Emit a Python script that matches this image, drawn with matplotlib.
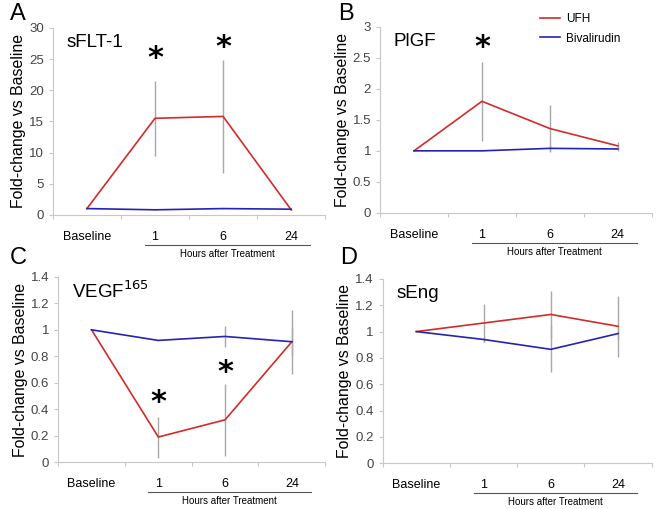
import matplotlib
matplotlib.use("Agg")
import matplotlib.pyplot as plt
from matplotlib.ticker import FuncFormatter
import matplotlib.transforms as mtrans

plt.rcParams['font.family'] = ['Liberation Sans', 'DejaVu Sans']

categories = ["Baseline", "1", "6", "24"]
series_names = ["UFH", "Bivalirudin"]

# panel A: sFLT-1
sflt_ufh = [1.0, 15.5, 15.8, 0.8]
sflt_ufh_err = [0.0, 6.0, 9.1, 0.1]
sflt_biv = [1.0, 0.8, 1.0, 0.9]
sflt_biv_err = [0.0, 0.1, 0.1, 0.1]
sflt_stars = [(1, 26.0), (2, 27.8)]

# panel B: PlGF
plgf_ufh = [1.0, 1.80, 1.36, 1.08]
plgf_ufh_err = [0.0, 0.64, 0.38, 0.07]
plgf_biv = [1.0, 1.0, 1.04, 1.03]
plgf_biv_err = [0.0, 0.0, 0.05, 0.03]
plgf_stars = [(1, 2.77)]

# panel C: VEGF165
vegf_ufh = [1.0, 0.19, 0.32, 0.91]
vegf_ufh_err = [0.0, 0.155, 0.27, 0.24]
vegf_biv = [1.0, 0.92, 0.95, 0.91]
vegf_biv_err = [0.0, 0.0, 0.08, 0.11]
vegf_stars = [(1, 0.50), (2, 0.72)]

# panel D: sEng
seng_ufh = [1.0, 1.065, 1.13, 1.04]
seng_ufh_err = [0.0, 0.145, 0.18, 0.23]
seng_biv = [1.0, 0.94, 0.865, 0.985]
seng_biv_err = [0.0, 0.02, 0.175, 0.05]
seng_stars = []

RED = '#d42a2a'
BLUE = '#2424b4'
ERR = '#a8a8a8'

fig = plt.figure(figsize=(6.61, 5.09), dpi=100)

panels = [
    ("A", "sFLT-1", [0.080, 0.578, 0.412, 0.367], sflt_ufh, sflt_ufh_err,
     sflt_biv, sflt_biv_err, sflt_stars, 30, 5, (10, 14)),
    ("B", "PlGF", [0.575, 0.582, 0.411, 0.365], plgf_ufh, plgf_ufh_err,
     plgf_biv, plgf_biv_err, plgf_stars, 3, 0.5, (338, 14)),
    ("C", "VEGF$^{165}$", [0.088, 0.092, 0.404, 0.364], vegf_ufh, vegf_ufh_err,
     vegf_biv, vegf_biv_err, vegf_stars, 1.4, 0.2, (10, 258)),
    ("D", "sEng", [0.579, 0.090, 0.407, 0.362], seng_ufh, seng_ufh_err,
     seng_biv, seng_biv_err, seng_stars, 1.4, 0.2, (340, 258)),
]

x = list(range(len(categories)))
W, H = 661, 509

for letter, name, rect, ufh, ufh_err, biv, biv_err, stars, ymax, step, lpos in panels:
    ax = fig.add_axes(rect)
    ax.errorbar(x, ufh, yerr=ufh_err, fmt='none', ecolor=ERR, elinewidth=1, capsize=0)
    ax.errorbar(x, biv, yerr=biv_err, fmt='none', ecolor=ERR, elinewidth=1, capsize=0)
    ax.plot(x, ufh, color=RED, lw=1.2, label=series_names[0])
    ax.plot(x, biv, color=BLUE, lw=1.2, label=series_names[1])

    for sx, sy in stars:
        ax.annotate("*", xy=(sx, sy), xytext=(0, -6), textcoords='offset pixels',
                    fontsize=22, ha='center', va='center', color='black',
                    fontweight='bold', family='DejaVu Sans')

    ax.set_xlim(-0.5, 3.5)
    ax.set_ylim(0, ymax)
    n = int(round(ymax / step))
    ax.set_yticks([i * step for i in range(n + 1)])
    ax.yaxis.set_major_formatter(FuncFormatter(lambda v, p: "%g" % round(v, 2)))
    ax.set_xticks([-0.5, 0.5, 1.5, 2.5, 3.5])
    ax.set_xticklabels([])
    for side in ['top', 'right']:
        ax.spines[side].set_visible(False)
    for side in ['left', 'bottom']:
        ax.spines[side].set_color('#c8c8c8')
    ax.tick_params(axis='both', colors='#c8c8c8', labelcolor='#444444',
                   labelsize=9.5, length=3)
    ax.set_ylabel("Fold-change vs Baseline", fontsize=11.4, labelpad=2)

    # category labels and the hours bracket under the axis
    for i, c in enumerate(categories):
        ax.annotate(c, xy=(i, 0), xycoords=('data', 'axes fraction'),
                    xytext=(0, -22), textcoords='offset pixels',
                    ha='center', va='center', fontsize=9)
    tr = mtrans.blended_transform_factory(ax.transData, ax.transAxes)
    off = mtrans.offset_copy(tr, fig=fig, y=-30, units='dots')
    ax.plot([0.85, 3.28], [0, 0], transform=off, color='#555555', lw=0.8, clip_on=False)
    off2 = mtrans.offset_copy(tr, fig=fig, y=-39, units='dots')
    ax.text(2.07, 0, "Hours after Treatment", transform=off2, ha='center',
            va='center', fontsize=7)

    ax.text(0.05, 0.92, name, transform=ax.transAxes, fontsize=13.5, va='center')
    fig.text(lpos[0] / W, 1 - lpos[1] / H, letter, fontsize=17,
             va='center', ha='left')

    if letter == "B":
        ax.legend(loc='upper left', bbox_to_anchor=(0.55, 1.13), frameon=False,
                  fontsize=8.5, handlelength=1.7, handletextpad=0.5, labelspacing=0.6)

fig.savefig("out.png", dpi=100)
